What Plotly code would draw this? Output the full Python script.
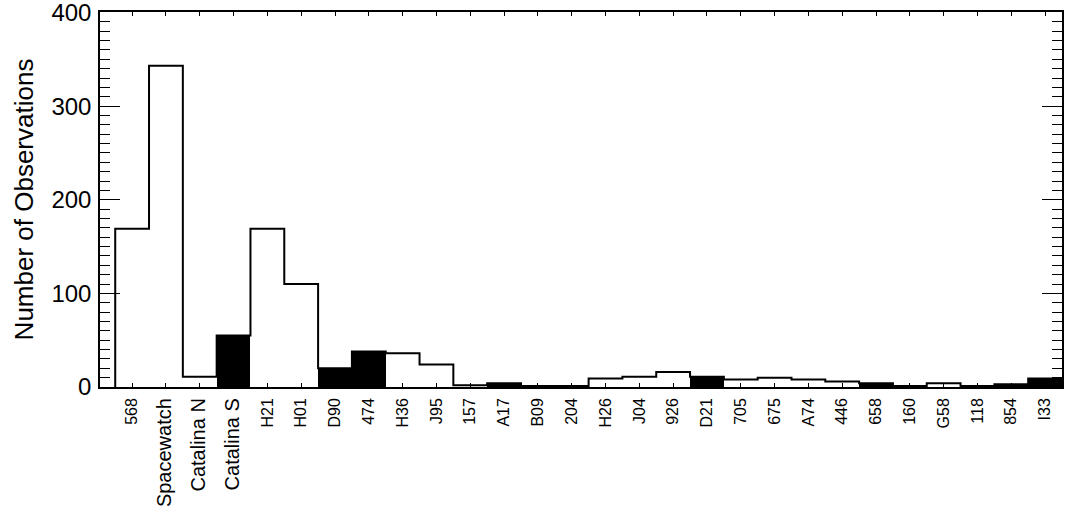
import numpy as np
import plotly.graph_objects as go

categories = ["568", "Spacewatch", "Catalina N", "Catalina S", "H21", "H01", "D90", "474",
              "H36", "J95", "157", "A17", "B09", "204", "H26", "J04", "926", "D21",
              "705", "675", "A74", "446", "658", "160", "G58", "118", "854", "I33"]
counts = [169, 343, 11, 55, 169, 110, 20, 38,
          36, 24, 2, 4, 1, 1, 9, 11, 16, 11,
          8, 10, 8, 6, 4, 1, 4, 1, 3, 9]
filled = ["Catalina S", "D90", "474", "A17", "D21", "658", "854", "I33"]
long_names = ["Spacewatch", "Catalina N", "Catalina S"]
y_ticks = [0, 100, 200, 300, 400]

FONT = "Liberation Sans, Arial, Helvetica, sans-serif"

idx = np.arange(len(categories))
vals = np.array(counts, dtype=float)

# step outline (histogram style)
xs = [idx[0] - 0.5]
ys = [0.0]
for i, v in zip(idx, vals):
    xs += [i - 0.5, i + 0.5]
    ys += [v, v]
xs.append(idx[-1] + 0.5)
ys.append(0.0)

fill_vals = [v if c in filled else None for c, v in zip(categories, counts)]

ticktext = [f'<span style="font-size:20px">{c}</span>' if c in long_names else c
            for c in categories]

fig = go.Figure()
fig.add_trace(go.Bar(x=idx, y=fill_vals, width=1.0,
                     marker=dict(color="black", line=dict(width=0)),
                     hoverinfo="skip", showlegend=False))
fig.add_trace(go.Scatter(x=xs, y=ys, mode="lines",
                         line=dict(color="black", width=2),
                         hoverinfo="skip", showlegend=False))

fig.update_layout(
    width=1069, height=510,
    margin=dict(l=100, r=7, t=12, b=123),
    paper_bgcolor="white", plot_bgcolor="white",
    font=dict(family=FONT, color="black"),
    bargap=0,
    showlegend=False,
)
fig.update_xaxes(
    range=[-0.95, 27.5], automargin=False,
    tickmode="array", tickvals=idx, ticktext=ticktext,
    tickangle=-90, tickfont=dict(size=16, family=FONT, color="black"),
    ticks="inside", ticklen=4, tickwidth=1, tickcolor="black",
    showline=True, linecolor="black", linewidth=1.5, mirror="ticks",
    showgrid=False, zeroline=False, ticklabelstandoff=3,
)
fig.update_yaxes(
    range=[0, 400.5], automargin=False, ticklabeloverflow="allow",
    tickmode="array", tickvals=y_ticks, ticktext=[str(v) for v in y_ticks],
    tickfont=dict(size=24, family=FONT, color="black"),
    ticks="inside", ticklen=20, tickwidth=1, tickcolor="black",
    minor=dict(dtick=10, ticks="inside", ticklen=10, tickwidth=1, tickcolor="black", showgrid=False),
    showline=True, linecolor="black", linewidth=1.5, mirror="ticks",
    showgrid=False, zeroline=False, ticklabelstandoff=2,
    title=dict(text="Number of Observations", font=dict(size=26, family=FONT, color="black"), standoff=10),
)

fig.write_html("out.html", config={"displayModeBar": False},
               post_script="document.body.style.margin='0';document.body.style.overflow='hidden';")
